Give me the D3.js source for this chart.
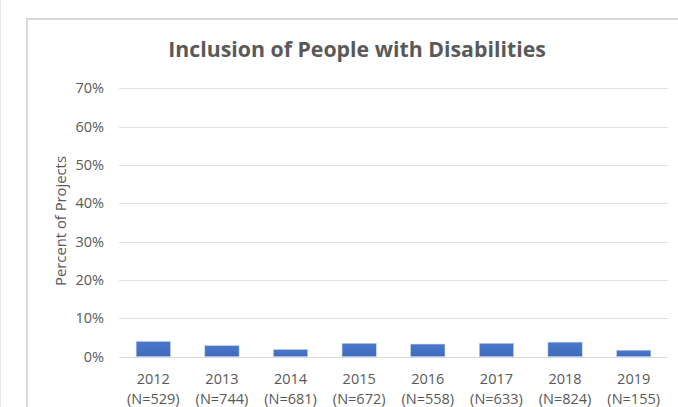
<!DOCTYPE html>
<html>
<head>
<meta charset="utf-8">
<script src="https://cdn.jsdelivr.net/npm/d3@7"></script>
<style>
  html, body { margin: 0; padding: 0; background: #fff; }
  svg { display: block; }
  text { font-family: "Open Sans", "Noto Sans", sans-serif; fill: #595959; }
</style>
</head>
<body>
<svg id="chart" width="678" height="407"></svg>
<script>
// Survey years, sample sizes and share of projects (%)
const years = ["2012", "2013", "2014", "2015", "2016", "2017", "2018", "2019"];
const sampleSizes = ["N=529", "N=744", "N=681", "N=672", "N=558", "N=633", "N=824", "N=155"];
const percents = [4.0, 2.9, 1.9, 3.5, 3.3, 3.5, 3.8, 1.7];
const yTicks = [0, 10, 20, 30, 40, 50, 60, 70];

const svg = d3.select("#chart");
const W = 678, H = 407;
const plot = { left: 119, right: 668, top: 88.3, bottom: 356.7 };

// chart frame lines
svg.append("line").attr("x1", 0.5).attr("x2", 0.5).attr("y1", 0).attr("y2", H)
  .attr("stroke", "#e4e4e4").attr("stroke-width", 1);
svg.append("path")
  .attr("d", `M27,${H} V19 H${W}`)
  .attr("fill", "none").attr("stroke", "#d9d9d9").attr("stroke-width", 2);

const x = d3.scaleBand().domain(years).range([plot.left, plot.right]).paddingInner(0.5).paddingOuter(0.25);
const y = d3.scaleLinear().domain([0, 70]).range([plot.bottom, plot.top]);

// horizontal gridlines
svg.append("g").selectAll("line").data(yTicks).join("line")
  .attr("x1", plot.left).attr("x2", plot.right)
  .attr("y1", d => Math.round(y(d)) + 0.5).attr("y2", d => Math.round(y(d)) + 0.5)
  .attr("stroke", d => d === 0 ? "#d9d9d9" : "#e0e0e0").attr("stroke-width", 1);

// y tick labels
const yAxis = d3.axisLeft(y).tickValues(yTicks).tickFormat(d => d + "%").tickSize(0).tickPadding(0);
const gy = svg.append("g").attr("transform", `translate(104,0)`).call(yAxis);
gy.select(".domain").remove();
gy.selectAll("text").attr("font-size", 14.5).attr("fill", "#595959")
  .attr("font-family", "'Open Sans', sans-serif");

// bars
const defs = svg.append("defs");
const grad = defs.append("linearGradient").attr("id", "barFill").attr("x1", 0).attr("x2", 0).attr("y1", 0).attr("y2", 1);
grad.append("stop").attr("offset", "0%").attr("stop-color", "#4a78cb");
grad.append("stop").attr("offset", "100%").attr("stop-color", "#3e6bbd");

svg.append("g").selectAll("rect").data(years).join("rect")
  .attr("x", d => x(d))
  .attr("width", x.bandwidth())
  .attr("y", (d, i) => y(percents[i]))
  .attr("height", (d, i) => y(0) - y(percents[i]))
  .attr("fill", "url(#barFill)")
  .attr("stroke", "#c9d5ec").attr("stroke-width", 0.6);

// x labels: year and sample size
const xl = svg.append("g");
years.forEach((yr, i) => {
  const cx = x(yr) + x.bandwidth() / 2;
  xl.append("text").attr("x", cx).attr("y", 384).attr("text-anchor", "middle")
    .attr("font-size", 14.5).text(yr);
  xl.append("text").attr("x", cx).attr("y", 404).attr("text-anchor", "middle")
    .attr("font-size", 14.5).text("(" + sampleSizes[i] + ")");
});

// axis title
svg.append("text")
  .attr("transform", `translate(66,221) rotate(-90)`)
  .attr("text-anchor", "middle").attr("font-size", 14.8).text("Percent of Projects");

// chart title
svg.append("text").attr("x", 357).attr("y", 57).attr("text-anchor", "middle")
  .attr("font-size", 21.3).attr("font-weight", "bold").text("Inclusion of People with Disabilities");
</script>
</body>
</html>
